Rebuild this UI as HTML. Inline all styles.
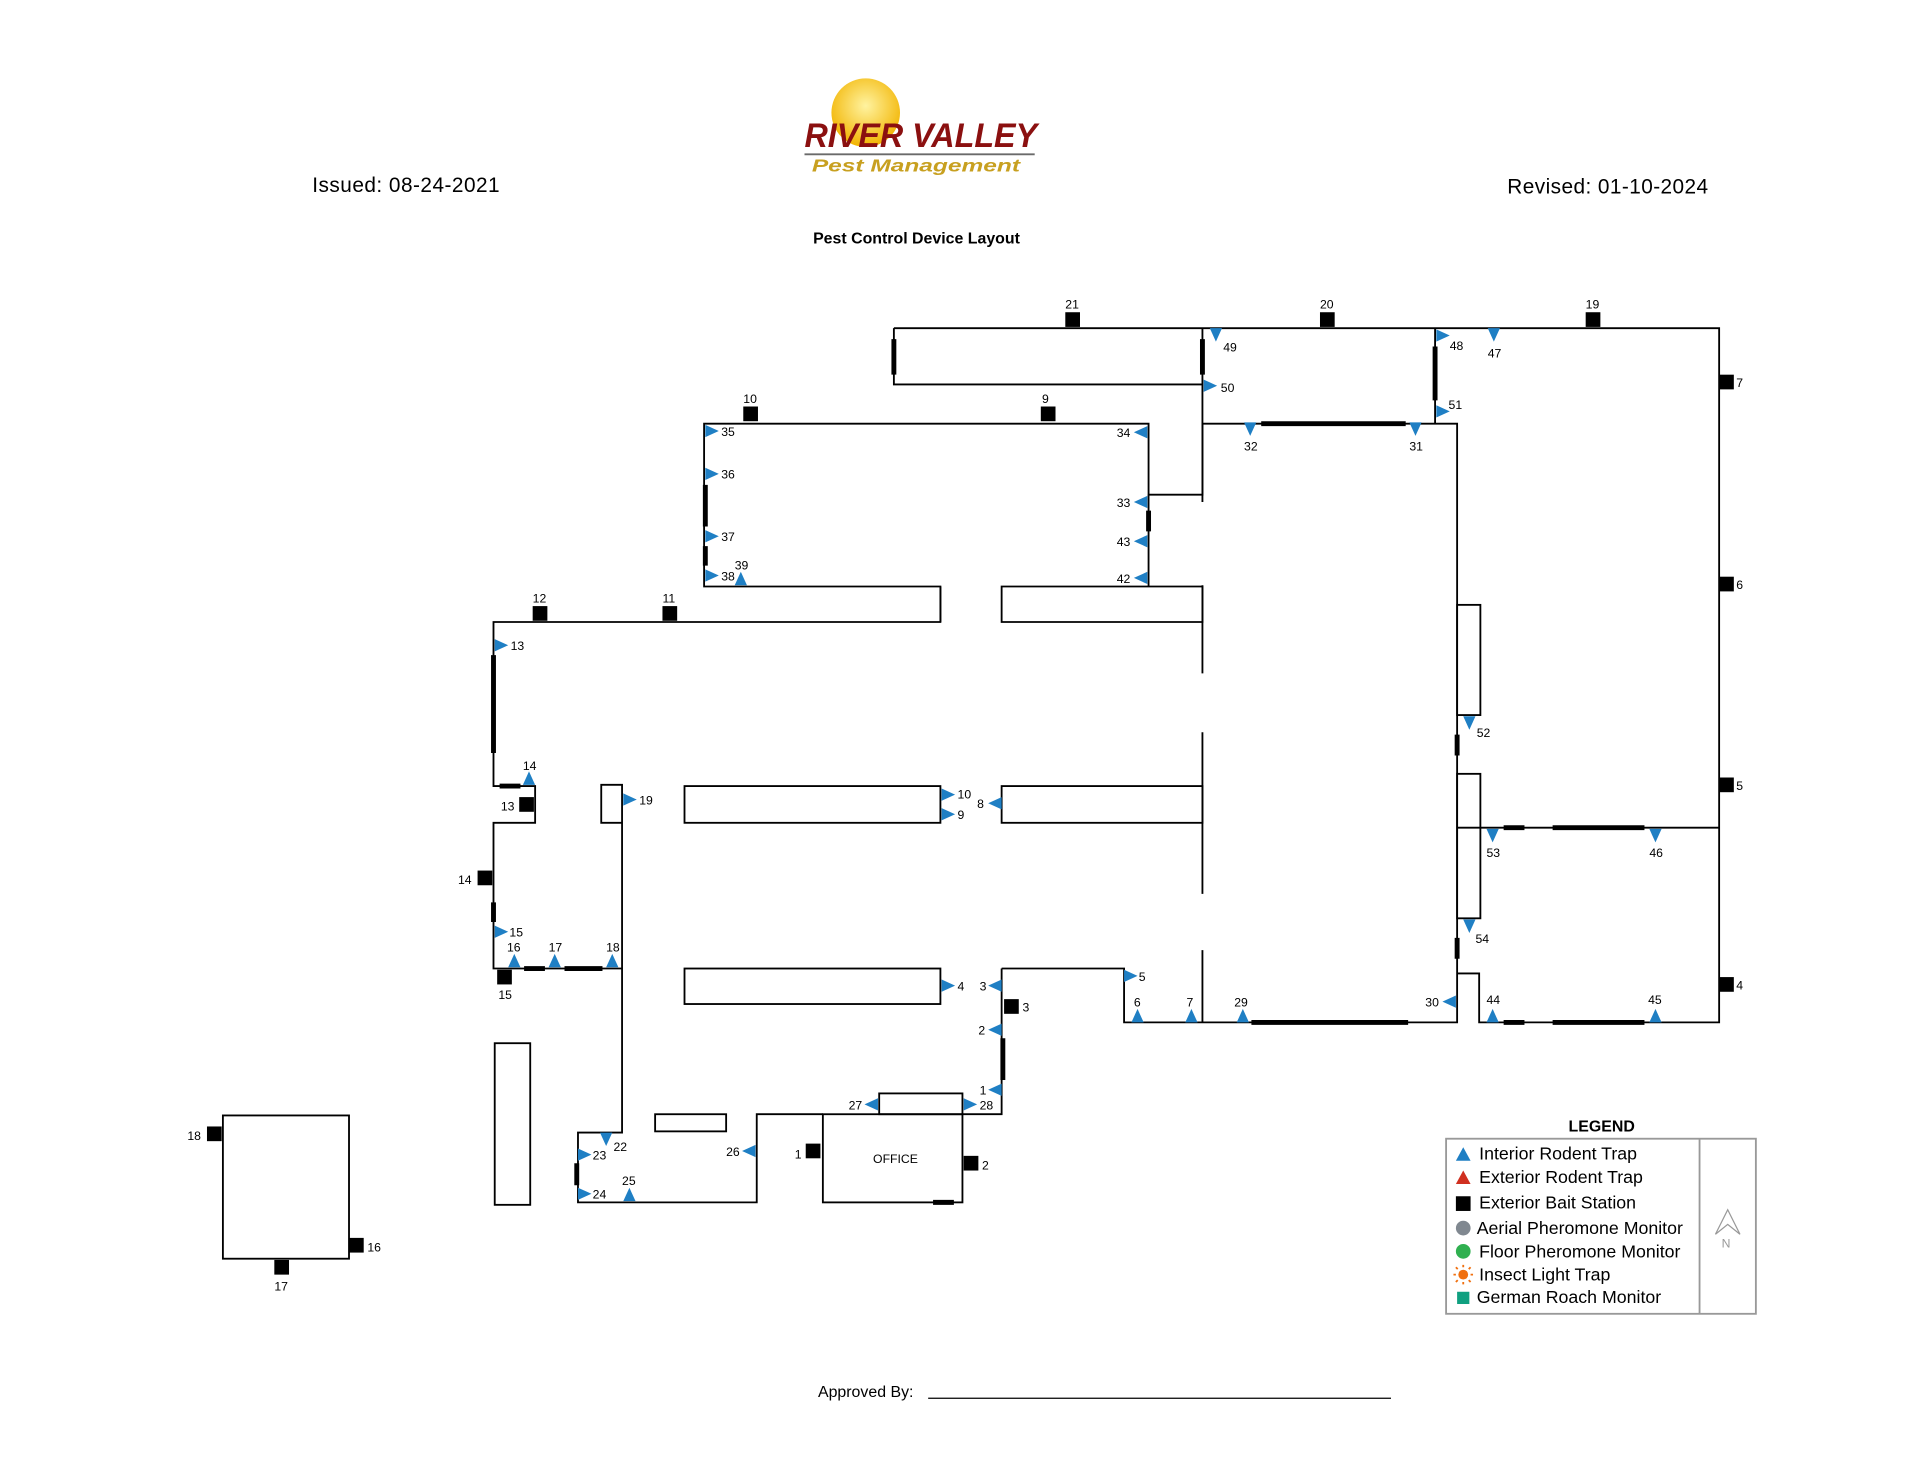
<!DOCTYPE html>
<html><head><meta charset="utf-8"><style>
html,body{margin:0;padding:0;background:#fff;}
svg{display:block;}
text{font-family:"Liberation Sans",sans-serif;}
</style></head><body>
<svg width="1920" height="1484" viewBox="0 0 1568 1212" xmlns="http://www.w3.org/2000/svg">
<defs>
<polygon id="tr" points="-5,-5 6,0 -5,5" fill="#1f7fc4"/>
<polygon id="tl" points="5,-5 -6,0 5,5" fill="#1f7fc4"/>
<polygon id="tu" points="-5,5 0,-6 5,5" fill="#1f7fc4"/>
<polygon id="td" points="-5,-5 0,6 5,-5" fill="#1f7fc4"/>
<rect id="bs" x="-6" y="-6" width="12" height="12" fill="#000"/>
<radialGradient id="sun" cx="50%" cy="40%" r="60%"><stop offset="0" stop-color="#fff3a0"/><stop offset="1" stop-color="#f2b400"/></radialGradient>
</defs>
<!-- header -->
<circle cx="707" cy="92" r="28" fill="url(#sun)"/>
<text x="657" y="120" font-family="Liberation Serif" font-style="italic" font-weight="bold" font-size="28" fill="#8b1010" textLength="190" lengthAdjust="spacingAndGlyphs">RIVER VALLEY</text>
<line x1="657" y1="126" x2="845" y2="126" stroke="#6a6a6a" stroke-width="1.5"/>
<text x="663" y="140" font-family="Liberation Serif" font-style="italic" font-weight="bold" font-size="14" fill="#c8a020" textLength="170" lengthAdjust="spacingAndGlyphs">Pest Management</text>
<text x="255" y="157" font-size="17" textLength="153">Issued: 08-24-2021</text>
<text x="1231" y="158" font-size="17" textLength="164">Revised: 01-10-2024</text>
<text x="664" y="199" font-size="13" font-weight="bold">Pest Control Device Layout</text>
<text x="668" y="1141" font-size="13">Approved By:</text>
<line x1="758" y1="1142" x2="1136" y2="1142" stroke="#000" stroke-width="1"/>

<g stroke="#000" stroke-width="1.5" fill="none">
<path d="M730 268H1404V835H1208V795H1190M730 268V314H982M982 268V404H938V346H575V479H768V508H403V642H437V672H403V791H508V641H491V672H508V925H472V982H618V910H672M818 791V910H786M818 791H918V835H1190V346H982"/>
<path d="M938 404V479"/>
<path d="M982 346V410M982 478V550M982 598V730M982 776V835"/>
<path d="M818 479H982V508H818Z M768 479V508"/>
<path d="M1190 676H1404"/>
<rect x="1190" y="494" width="19" height="90"/>
<rect x="1190" y="632" width="19" height="118"/>
<rect x="559" y="642" width="209" height="30"/>
<rect x="818" y="642" width="164" height="30"/>
<rect x="559" y="791" width="209" height="29"/>
<rect x="535" y="910" width="58" height="14"/>
<rect x="404" y="852" width="29" height="132"/>
<rect x="182" y="911" width="103" height="117"/>
<rect x="672" y="910" width="114" height="72"/>
<rect x="718" y="893" width="68" height="17"/>
<path d="M1172 268V346"/>
</g>
<g stroke="#000" stroke-width="4">
<path d="M730 277V306M982 277V306M1172 283V327M1030 346H1148M576 396V430M576 446V462M938 417V434M403 535V615M408 642H425M403 737V753M428 791H445M461 791H492M819 848V882M471 950V968M762 982H779M1190 600V617M1190 766V783M1022 835H1150M1228 835H1245M1268 835H1343M1228 676H1245M1268 676H1343"/>
</g>
<g>
<use href="#td" x="993" y="273"/><use href="#tr" x="988" y="315"/><use href="#tr" x="1178" y="274"/><use href="#td" x="1220" y="273"/><use href="#tr" x="1178" y="336"/>
<use href="#td" x="1021" y="350"/><use href="#td" x="1156" y="350"/>
<use href="#tr" x="581" y="352"/><use href="#tr" x="581" y="387"/><use href="#tr" x="581" y="438"/><use href="#tr" x="581" y="470"/><use href="#tu" x="605" y="473"/>
<use href="#tl" x="932" y="353"/><use href="#tl" x="932" y="410"/><use href="#tl" x="932" y="442"/><use href="#tl" x="932" y="472"/>
<use href="#tr" x="409" y="527"/><use href="#tu" x="432" y="636"/><use href="#tr" x="514" y="653"/>
<use href="#tr" x="774" y="649"/><use href="#tr" x="774" y="665"/><use href="#tl" x="813" y="656"/>
<use href="#tr" x="409" y="761"/><use href="#tu" x="420" y="785"/><use href="#tu" x="453" y="785"/><use href="#tu" x="500" y="785"/>
<use href="#tr" x="774" y="805"/><use href="#tl" x="813" y="805"/><use href="#tr" x="923" y="797"/>
<use href="#tu" x="929" y="830"/><use href="#tu" x="973" y="830"/><use href="#tu" x="1015" y="830"/><use href="#tl" x="1184" y="818"/>
<use href="#tu" x="1219" y="830"/><use href="#tu" x="1352" y="830"/>
<use href="#td" x="1200" y="590"/><use href="#td" x="1219" y="682"/><use href="#td" x="1352" y="682"/><use href="#td" x="1200" y="756"/>
<use href="#tl" x="813" y="841"/><use href="#tl" x="813" y="890"/><use href="#tl" x="712" y="902"/><use href="#tr" x="792" y="902"/>
<use href="#tl" x="612" y="940"/><use href="#td" x="495" y="930"/><use href="#tr" x="477" y="943"/><use href="#tr" x="477" y="975"/><use href="#tu" x="514" y="976"/>
</g>
<g>
<use href="#bs" x="876" y="261"/><use href="#bs" x="1084" y="261"/><use href="#bs" x="1301" y="261"/>
<use href="#bs" x="1410" y="312"/><use href="#bs" x="1410" y="477"/><use href="#bs" x="1410" y="641"/><use href="#bs" x="1410" y="804"/>
<use href="#bs" x="613" y="338"/><use href="#bs" x="856" y="338"/><use href="#bs" x="441" y="501"/><use href="#bs" x="547" y="501"/>
<use href="#bs" x="430" y="657"/><use href="#bs" x="396" y="717"/><use href="#bs" x="412" y="798"/><use href="#bs" x="826" y="822"/>
<use href="#bs" x="664" y="940"/><use href="#bs" x="793" y="950"/><use href="#bs" x="175" y="926"/><use href="#bs" x="291" y="1017"/><use href="#bs" x="230" y="1035"/>
</g>
<g font-size="10" fill="#000">
<text x="999" y="287">49</text><text x="997" y="320">50</text><text x="1184" y="286">48</text><text x="1215" y="292">47</text><text x="1183" y="334">51</text>
<text x="1016" y="368">32</text><text x="1151" y="368">31</text>
<text x="589" y="356">35</text><text x="589" y="391">36</text><text x="589" y="442">37</text><text x="589" y="474">38</text><text x="600" y="465">39</text>
<text x="912" y="357">34</text><text x="912" y="414">33</text><text x="912" y="446">43</text><text x="912" y="476">42</text>
<text x="417" y="531">13</text><text x="427" y="629">14</text><text x="522" y="657">19</text>
<text x="782" y="652">10</text><text x="782" y="669">9</text><text x="798" y="660">8</text>
<text x="416" y="765">15</text><text x="414" y="777">16</text><text x="448" y="777">17</text><text x="495" y="777">18</text>
<text x="782" y="809">4</text><text x="800" y="809">3</text><text x="930" y="801">5</text>
<text x="926" y="822">6</text><text x="969" y="822">7</text><text x="1008" y="822">29</text><text x="1164" y="822">30</text>
<text x="1214" y="820">44</text><text x="1346" y="820">45</text>
<text x="1206" y="602">52</text><text x="1214" y="700">53</text><text x="1347" y="700">46</text><text x="1205" y="770">54</text>
<text x="799" y="845">2</text><text x="800" y="894">1</text><text x="693" y="906">27</text><text x="800" y="906">28</text>
<text x="593" y="944">26</text><text x="501" y="940">22</text><text x="484" y="947">23</text><text x="484" y="979">24</text><text x="508" y="968">25</text>
<text x="870" y="252">21</text><text x="1078" y="252">20</text><text x="1295" y="252">19</text>
<text x="1418" y="316">7</text><text x="1418" y="481">6</text><text x="1418" y="645">5</text><text x="1418" y="808">4</text>
<text x="607" y="329">10</text><text x="851" y="329">9</text><text x="435" y="492">12</text><text x="541" y="492">11</text>
<text x="409" y="662">13</text><text x="374" y="722">14</text><text x="407" y="816">15</text><text x="835" y="826">3</text>
<text x="649" y="946">1</text><text x="802" y="955">2</text><text x="153" y="931">18</text><text x="300" y="1022">16</text><text x="224" y="1054">17</text>
<text x="713" y="950">OFFICE</text>
</g>
<text x="1281" y="924" font-size="13" font-weight="bold">LEGEND</text>
<rect x="1181" y="930" width="253" height="143" fill="none" stroke="#999" stroke-width="1.5"/>
<line x1="1388" y1="930" x2="1388" y2="1073" stroke="#999" stroke-width="1.5"/>
<path d="M1401 1008L1411 988L1421 1008L1411 1000Z" fill="none" stroke="#999"/>
<text x="1406" y="1019" font-size="10" fill="#999">N</text>
<g font-size="14.5">
<polygon points="1189,948 1195,937 1201,948" fill="#1f7fc4"/><text x="1208" y="947">Interior Rodent Trap</text>
<polygon points="1189,967 1195,956 1201,967" fill="#d03020"/><text x="1208" y="966">Exterior Rodent Trap</text>
<rect x="1189" y="977" width="12" height="12" fill="#000"/><text x="1208" y="987">Exterior Bait Station</text>
<circle cx="1195" cy="1003" r="6" fill="#808890"/><text x="1206" y="1008">Aerial Pheromone Monitor</text>
<circle cx="1195" cy="1022" r="6" fill="#30b050"/><text x="1208" y="1027">Floor Pheromone Monitor</text>
<circle cx="1195" cy="1041" r="4" fill="#f07010"/><g stroke="#f07010" stroke-width="1.5"><path d="M1195 1033V1035M1195 1047V1049M1187 1041H1189M1201 1041H1203M1189 1035L1190.5 1036.5M1201 1035L1199.5 1036.5M1189 1047L1190.5 1045.5M1201 1047L1199.5 1045.5"/></g><text x="1208" y="1046">Insect Light Trap</text>
<rect x="1190" y="1055" width="10" height="10" fill="#10a080"/><text x="1206" y="1064">German Roach Monitor</text>
</g>
</svg>
</body></html>
